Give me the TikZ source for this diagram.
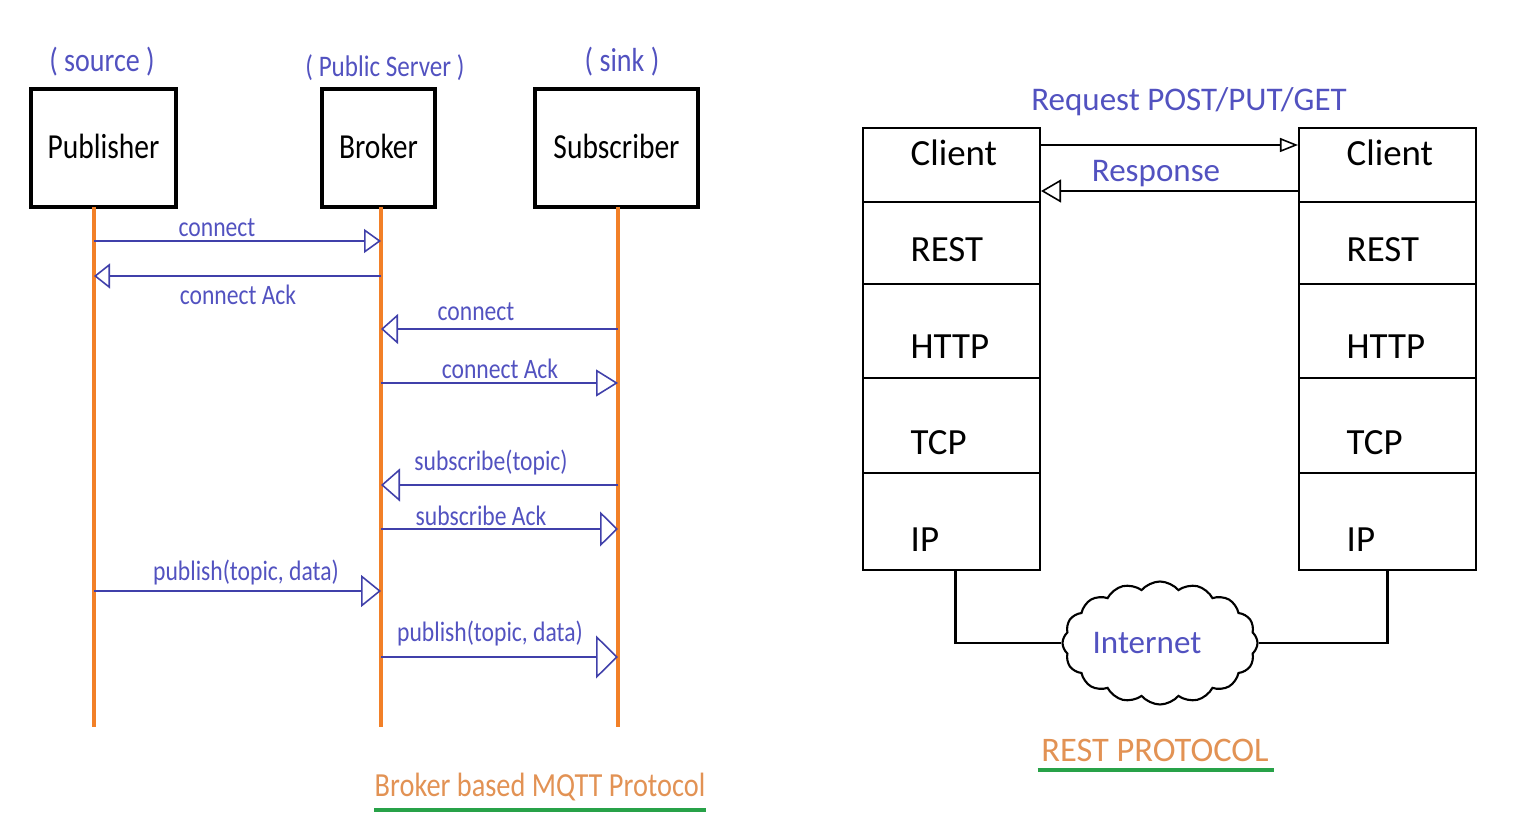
\documentclass[tikz,border=0pt]{standalone}
\usepackage{fontspec}
\setmainfont{Carlito}
\newfontfamily\condfont[FakeStretch=0.84]{Carlito}
\usetikzlibrary{arrows.meta,shapes.symbols}
\definecolor{msgblue}{RGB}{64,64,170}
\definecolor{txtblue}{RGB}{82,82,192}
\definecolor{lifeorange}{RGB}{242,128,40}
\definecolor{titleorange}{RGB}{226,146,84}
\definecolor{lineGreen}{RGB}{40,162,72}

\begin{document}
\begin{tikzpicture}[x=0.1mm, y=-0.1mm,
  actor/.style={draw, line width=1.4pt, minimum height=11.8mm, inner sep=0pt,
                font=\condfont\fontsize{10}{12}\selectfont},
  rolelab/.style={txtblue, inner sep=0pt, font=\condfont\fontsize{9.5}{11}\selectfont},
  lifeline/.style={lifeorange, line width=1.1pt},
  msg/.style={msgblue, line width=0.45pt},
  msglab/.style={txtblue, inner sep=0pt, font=\condfont\fontsize{8}{10}\selectfont},
  stackcell/.style={draw, line width=0.6pt, minimum width=17.7mm, inner sep=0pt},
  layertxt/.style={anchor=base west, inner sep=0pt, font=\fontsize{10.5}{12}\selectfont},
  restlab/.style={txtblue, inner sep=0pt, font=\fontsize{9.4}{11}\selectfont},
  reqline/.style={black, line width=0.45pt},
  wire/.style={black, line width=0.6pt},
  headline/.style={titleorange, inner sep=0pt},
  uline/.style={lineGreen, line width=1.2pt}]

\path[use as bounding box] (0,0) rectangle (1514,834);

% ---------------- MQTT (left) ----------------
% Actors
\node[actor, minimum width=14.5mm] (pub) at (103.5,148) {\raisebox{0.9pt}{Publisher}};
\node[actor, minimum width=11.3mm] (brk) at (378.5,148) {\raisebox{0.9pt}{Broker}};
\node[actor, minimum width=16.3mm] (sub) at (616.5,148) {\raisebox{0.9pt}{Subscriber}};

% Roles above the boxes
\node[rolelab] (pubrole) at (102,62) {( source )};
\node[rolelab, font=\condfont\fontsize{8.5}{10}\selectfont] (brkrole) at (385,68) {( Public Server )};
\node[rolelab] (subrole) at (622,62) {( sink )};

% Lifelines
\foreach \a/\x in {pub/94, brk/381, sub/618} {
  \coordinate (\a-top) at (\x,207);
  \coordinate (\a-bot) at (\x,727);
  \draw[lifeline] (\a-top) -- (\a-bot);
}

% Messages  (y / from / to / head length / head width / label x / label y / text)
\foreach \y/\s/\t/\hl/\hw/\lx/\ly/\txt [count=\i] in {
  241/pub/brk/1.7/2.4/217/228/connect,
  276/brk/pub/1.6/2.5/238/295/connect Ack,
  329/sub/brk/1.7/3.0/476/312/connect,
  383/brk/sub/2.2/2.7/500/369/connect Ack,
  485/sub/brk/1.9/3.3/491/462/subscribe(topic),
  529/brk/sub/1.8/3.5/481/516/subscribe Ack,
  591/pub/brk/2.0/3.2/246/572/{publish(topic, data)},
  657/brk/sub/2.2/4.3/490/633/{publish(topic, data)}} {
  \draw[msg, -{Triangle[open, length=\hl mm, width=\hw mm]}]
    (\s-top |- 0,\y) -- (\t-top |- 0,\y);
  \node[msglab] (m\i) at (\lx,\ly) {\txt};
}

% Title
\node[headline, font=\condfont\fontsize{9.6}{11}\selectfont] (mqtitle) at (540,787)
  {Broker based MQTT Protocol};
\draw[uline] (mqtitle.base west |- 0,810) -- (mqtitle.base east |- 0,810);

% ---------------- REST (right) ----------------
% Protocol stacks  (name / top / bottom / baseline / text)
\foreach \n/\t/\b/\base/\txt in {
  cl/128/202/166/Client, rs/202/284/262/REST, ht/284/378/359/HTTP,
  tc/378/473/455/TCP, ip/473/570/552/IP} {
  \foreach \side/\xl in {L/863, R/1299} {
    \node[stackcell, minimum height={(\b-\t)*0.1mm}] (\side\n) at (\xl+88.5,{(\t+\b)/2}) {};
    \node[layertxt] (\side\n-t) at (\xl+47,\base) {\txt};
  }
}

% Request / response
\draw[reqline, -{Triangle[open, length=1.8mm, width=1.4mm]}]
  (Lcl.east |- 0,145) -- (Rcl.west |- 0,145);
\node[restlab] (req) at (1189,102) {Request POST/PUT/GET};
\draw[reqline, -{Triangle[open, length=2.0mm, width=2.3mm]}]
  (Rcl.west |- 0,191) -- (Lcl.east |- 0,191);
\node[restlab] (resp) at (1156,174) {Response};

% Internet cloud
\node[cloud, draw=black, line width=0.6pt, text=txtblue, cloud puffs=16, cloud puff arc=100,
      aspect=1.6, minimum width=19.5mm, minimum height=12.3mm, inner sep=0pt,
      font=\fontsize{9.4}{11}\selectfont] (net) at (1160,643) {\hspace*{-2.6mm}Internet};
\draw[wire] ([xshift=0.4mm]Lip.south) |- (net.west);
\draw[wire] (net.east) -| (Rip.south);

% Title
\node[headline, font=\fontsize{9.8}{11}\selectfont] (resttitle) at (1155,750) {REST PROTOCOL};
\draw[uline] ([xshift=-0.3mm]resttitle.base west |- 0,770) -- ([xshift=0.5mm]resttitle.base east |- 0,770);

\end{tikzpicture}
\end{document}
